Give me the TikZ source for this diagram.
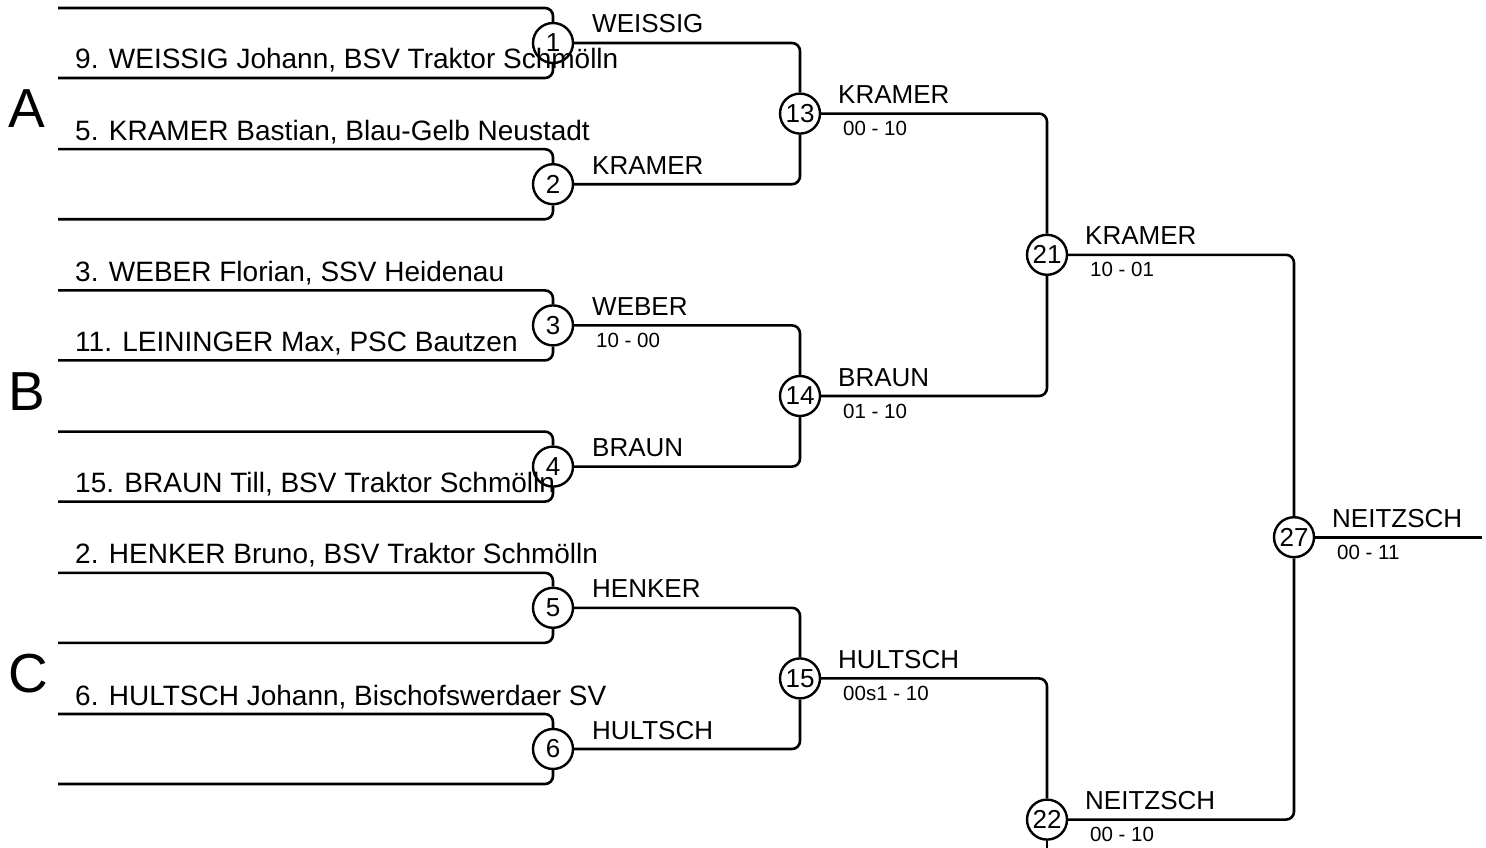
\documentclass[tikz,border=0pt]{standalone}
\usepackage{fontspec}
\setmainfont{Liberation Sans}
\usetikzlibrary{calc}
\tikzset{
  ln/.style={line width=2.6pt, rounded corners=8pt},
  mc/.style={circle, draw, line width=2.4pt, minimum size=40pt, inner sep=0pt, font=\fontsize{26}{26}\selectfont},
  nm/.style={anchor=base west, inner sep=0pt, font=\fontsize{28}{28}\selectfont},
  wl/.style={anchor=base west, inner sep=0pt, font=\fontsize{26}{26}\selectfont},
  sc/.style={anchor=base west, inner sep=0pt, font=\fontsize{20.5}{20.5}\selectfont},
  grp/.style={anchor=base west, inner sep=0pt, font=\fontsize{55}{55}\selectfont}
}
\begin{document}
\begin{tikzpicture}[x=1pt,y=-1pt]
\useasboundingbox (0,0) rectangle (1486,848);
% round 1
\foreach \i/\y in {1/43,2/184.2,3/325.4,4/466.6,5/607.8,6/749}{
  \node[mc] (c\i) at (553,\y) {\i};
  \coordinate (t\i) at (58,\y-35);
  \coordinate (b\i) at (58,\y+35);
  \draw[ln] (t\i) -- (t\i -| c\i) -- (c\i.north);
  \draw[ln] (b\i) -- (b\i -| c\i) -- (c\i.south);
}
% round 2
\node[mc] (c13) at (800,113.6) {13};
\node[mc] (c14) at (800,396) {14};
\node[mc] (c15) at (800,678.4) {15};
\draw[ln] (c1.east) -- (c1 -| c13) -- (c13.north);
\draw[ln] (c2.east) -- (c2 -| c13) -- (c13.south);
\draw[ln] (c3.east) -- (c3 -| c14) -- (c14.north);
\draw[ln] (c4.east) -- (c4 -| c14) -- (c14.south);
\draw[ln] (c5.east) -- (c5 -| c15) -- (c15.north);
\draw[ln] (c6.east) -- (c6 -| c15) -- (c15.south);
% round 3
\node[mc] (c21) at (1047,254.8) {21};
\node[mc] (c22) at (1047,819.6) {22};
\draw[ln] (c13.east) -- (c13 -| c21) -- (c21.north);
\draw[ln] (c14.east) -- (c14 -| c21) -- (c21.south);
\draw[ln] (c15.east) -- (c15 -| c22) -- (c22.north);
\coordinate (cont) at (1047,860);
\draw[ln] (c22.south) -- (cont);
% final
\node[mc] (c27) at (1294,537.2) {27};
\draw[ln] (c21.east) -- (c21 -| c27) -- (c27.north);
\draw[ln] (c22.east) -- (c22 -| c27) -- (c27.south);
\coordinate (fin) at (1482,537.2);
\draw[ln] (c27.east) -- (fin);
% group letters
\node[grp] (gA) at (8,128) {A};
\node[grp] (gB) at (8,410.4) {B};
\node[grp] (gC) at (8,692.8) {C};
% player names
\node[nm] (n9) at (75,69) {9. WEISSIG Johann, BSV Traktor Schmölln};
\node[nm] (n5) at (75,140.2) {5. KRAMER Bastian, Blau-Gelb Neustadt};
\node[nm] (n3) at (75,281.4) {3. WEBER Florian, SSV Heidenau};
\node[nm] (n11) at (75,351.4) {11. LEININGER Max, PSC Bautzen};
\node[nm] (n15) at (75,492.6) {15. BRAUN Till, BSV Traktor Schmölln};
\node[nm] (n2) at (75,563.8) {2. HENKER Bruno, BSV Traktor Schmölln};
\node[nm] (n6) at (75,705) {6. HULTSCH Johann, Bischofswerdaer SV};
% winner labels
\node[wl] (w1) at ($(c1)+(39,-10)$) {WEISSIG};
\node[wl] (w2) at ($(c2)+(39,-10)$) {KRAMER};
\node[wl] (w3) at ($(c3)+(39,-10)$) {WEBER};
\node[sc] (s3) at ($(c3)+(43,22)$) {10 - 00};
\node[wl] (w4) at ($(c4)+(39,-10)$) {BRAUN};
\node[wl] (w5) at ($(c5)+(39,-10)$) {HENKER};
\node[wl] (w6) at ($(c6)+(39,-10)$) {HULTSCH};
\node[wl] (w13) at ($(c13)+(38,-10)$) {KRAMER};
\node[sc] (s13) at ($(c13)+(43,22)$) {00 - 10};
\node[wl] (w14) at ($(c14)+(38,-10)$) {BRAUN};
\node[sc] (s14) at ($(c14)+(43,22)$) {01 - 10};
\node[wl] (w15) at ($(c15)+(38,-10)$) {HULTSCH};
\node[sc] (s15) at ($(c15)+(43,22)$) {00s1 - 10};
\node[wl] (w21) at ($(c21)+(38,-10)$) {KRAMER};
\node[sc] (s21) at ($(c21)+(43,22)$) {10 - 01};
\node[wl] (w22) at ($(c22)+(38,-10)$) {NEITZSCH};
\node[sc] (s22) at ($(c22)+(43,22)$) {00 - 10};
\node[wl] (w27) at ($(c27)+(38,-10)$) {NEITZSCH};
\node[sc] (s27) at ($(c27)+(43,22)$) {00 - 11};
\end{tikzpicture}
\end{document}
